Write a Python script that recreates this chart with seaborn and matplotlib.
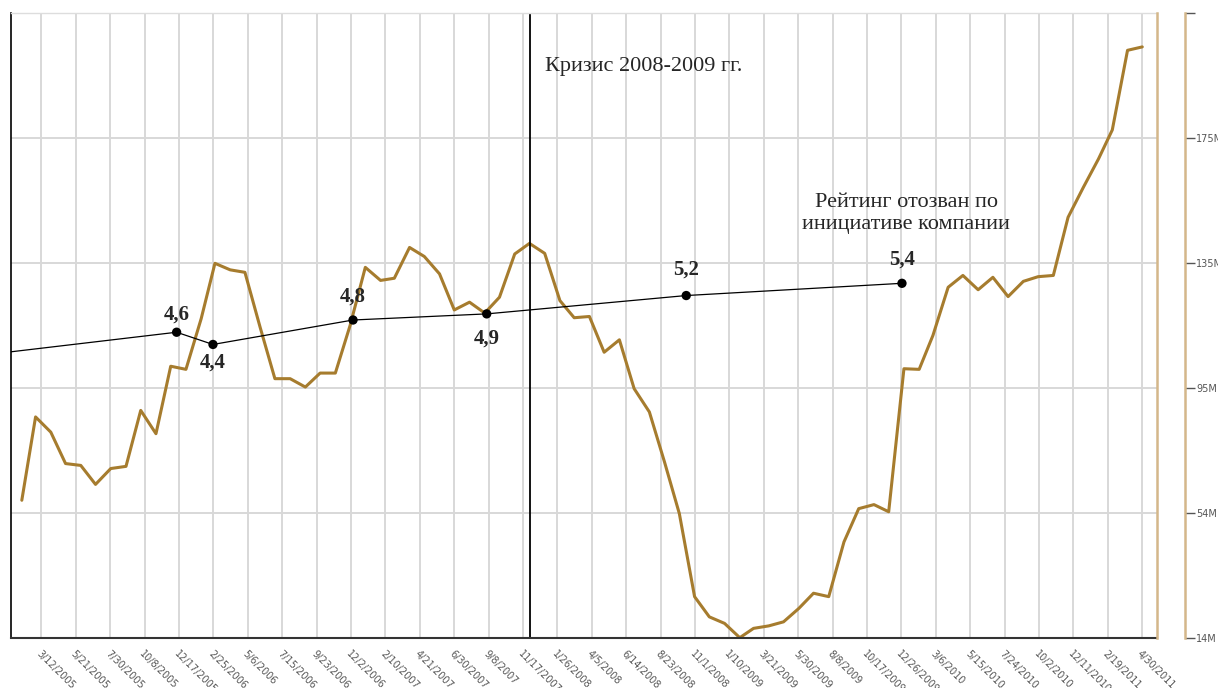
import pandas as pd
import matplotlib.pyplot as plt
import seaborn as sns

# monthly price (millions), end of month Jan 2005 .. Apr 2011
price_m = [58.3, 85.1, 80.2, 70.1, 69.5, 63.4, 68.5, 69.2, 87.2, 79.7,
           101.4, 100.4, 116.7, 134.5, 132.4, 131.6, 113.9, 97.4, 97.4, 94.7,
           99.2, 99.2, 114.5, 133.2, 129.0, 129.7, 139.6, 136.7, 131.1, 119.5,
           122.0, 118.5, 123.6, 137.5, 140.9, 137.7, 122.5, 117.0, 117.4, 105.9,
           109.9, 94.2, 86.7, 70.5, 54.0, 27.3, 20.8, 18.7, 14.1, 17.1,
           17.9, 19.2, 23.5, 28.4, 27.3, 44.9, 55.6, 56.9, 54.6, 100.6,
           100.4, 111.3, 126.8, 130.6, 126.0, 130.0, 123.8, 128.7, 130.2, 130.6,
           149.3, 158.9, 168.1, 177.4, 203.0, 204.1]
price_dates = pd.date_range('2005-01-31', '2011-04-30', freq='ME')

# credit rating history
rating_dates = ['2005-01-09', '2005-12-12', '2006-02-24', '2006-12-06',
                '2007-09-04', '2008-10-14', '2009-12-27']
rating_vals = [4.28, 4.6, 4.4, 4.8, 4.9, 5.2, 5.4]
rating_labels = ['', '4,6', '4,4', '4,8', '4,9', '5,2', '5,4']
label_offsets = [0, 13, -13, 17, -18, 19, 17]   # points, + above / - below

tick_labels = ['3/12/2005', '5/21/2005', '7/30/2005', '10/8/2005', '12/17/2005',
               '2/25/2006', '5/6/2006', '7/15/2006', '9/23/2006', '12/2/2006',
               '2/10/2007', '4/21/2007', '6/30/2007', '9/8/2007', '11/17/2007',
               '1/26/2008', '4/5/2008', '6/14/2008', '8/23/2008', '11/1/2008',
               '1/10/2009', '3/21/2009', '5/30/2009', '8/8/2009', '10/17/2009',
               '12/26/2009', '3/6/2010', '5/15/2010', '7/24/2010', '10/2/2010',
               '12/11/2010', '2/19/2011', '4/30/2011']
price_ticks = [14, 54.2, 94.4, 134.6, 174.8, 215]
price_tick_labels = ['14M', '54M', '95M', '135M', '175M', '']

crisis_date = '2007-12-01'

sns.set_style("white")
plt.rcParams['font.family'] = ['DejaVu Sans']
serif = ['Liberation Serif', 'DejaVu Serif']

GOLD = '#a67c2e'
TAN = '#d4b78a'

fig = plt.figure(figsize=(12.18, 6.88), dpi=100)
ax = fig.add_axes([0.00903, 0.07267, 0.9409, 0.90843])
ax2 = ax.twinx()

# price line
sns.lineplot(x=price_dates, y=price_m, ax=ax, color=GOLD, lw=2.2)

# rating line
r_dates = pd.to_datetime(rating_dates)
sns.lineplot(x=r_dates, y=rating_vals, ax=ax2, color='black', lw=0.9)
sns.scatterplot(x=r_dates[1:], y=rating_vals[1:], ax=ax2, color='black',
                s=45, edgecolor='none', zorder=5)
for d, v, lab, off in zip(r_dates, rating_vals, rating_labels, label_offsets):
    if lab:
        ax2.annotate(lab, (d, v), xytext=(0, off), textcoords='offset points',
                     ha='center', va='center', fontsize=15, fontweight='bold',
                     family=serif)

# crisis marker
ax.axvline(pd.Timestamp(crisis_date), color='black', lw=1.3)
ax.text(0.466, 0.914, 'Кризис 2008-2009 гг.', transform=ax.transAxes,
        ha='left', va='center', fontsize=16, family=serif)
ax.text(0.781, 0.679, 'Рейтинг отозван по\nинициативе компании',
        transform=ax.transAxes, ha='center', va='center', fontsize=16,
        family=serif, linespacing=1.2)

# axes
ax.set_xlim(pd.Timestamp('2005-01-09'), pd.Timestamp('2011-05-30'))
ax.set_ylim(14, 215)
ax2.set_ylim(-0.40, 9.82)

tick_dates = pd.to_datetime(tick_labels, format='%m/%d/%Y')
ax.set_xticks(tick_dates)
ax.set_xticklabels(tick_labels, rotation=-45, ha='left', va='top',
                   rotation_mode='anchor', fontsize=7, color='#555555')
ax.tick_params(axis='x', length=0, pad=8)

ax.yaxis.tick_right()
ax.set_yticks(price_ticks)
ax.set_yticklabels(price_tick_labels)
ax.tick_params(axis='y', length=7, color='#555555', labelsize=7,
               labelcolor='#555555', pad=1, width=1)
ax2.set_yticks([])

ax.grid(True, color='#d8d8d8', lw=1.4)
ax.set_axisbelow(True)
ax.set_xlabel('')
ax.set_ylabel('')
ax2.set_ylabel('')

ax.spines['right'].set_position(('outward', 20))
ax.spines['right'].set_color(TAN)
ax.spines['right'].set_linewidth(1.8)
ax.spines['left'].set_color('black')
ax.spines['left'].set_linewidth(1.2)
ax.spines['bottom'].set_color('#333333')
ax.spines['bottom'].set_linewidth(1.5)
ax.spines['top'].set_color('#dddddd')
ax.spines['top'].set_linewidth(1)
for s in ['left', 'top', 'bottom']:
    ax2.spines[s].set_visible(False)
ax2.spines['right'].set_color(TAN)
ax2.spines['right'].set_linewidth(1.8)

fig.savefig('out.png', dpi=100)
